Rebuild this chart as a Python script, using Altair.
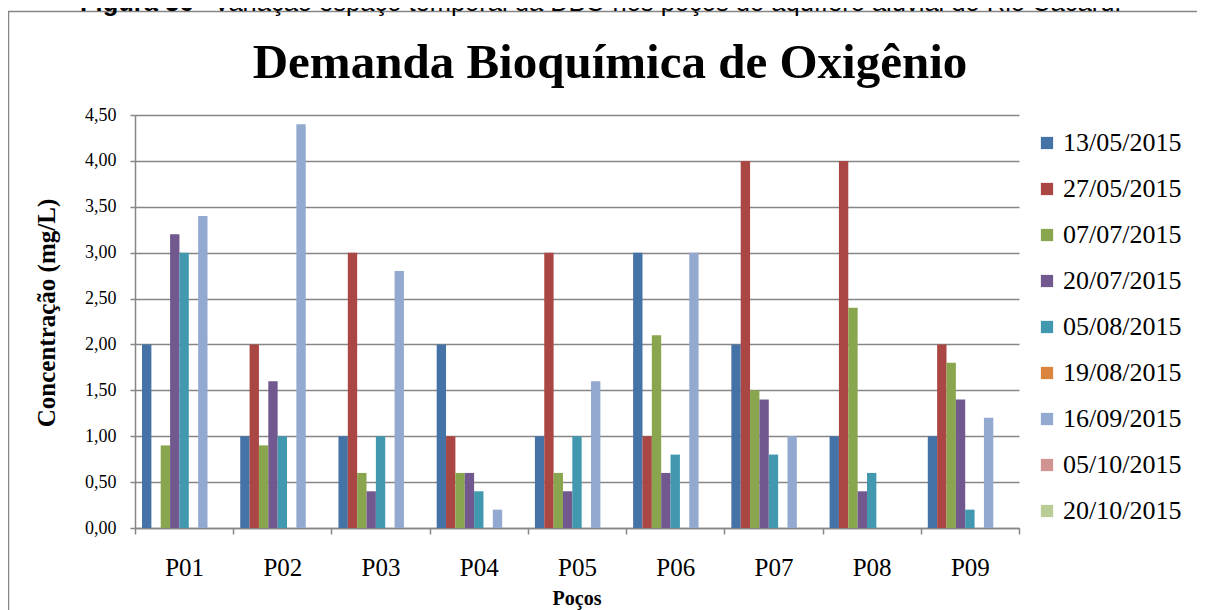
import altair as alt
import pandas as pd

wells = ["P01", "P02", "P03", "P04", "P05", "P06", "P07", "P08", "P09"]
dates = ["13/05/2015", "27/05/2015", "07/07/2015", "20/07/2015", "05/08/2015",
         "19/08/2015", "16/09/2015", "05/10/2015", "20/10/2015"]
colors = ["#4572A7", "#AA4643", "#89A54E", "#71588F", "#4198AF",
          "#DB843D", "#93A9CF", "#D19392", "#B9CD96"]

# values per sampling date, one value per well (None = no data)
d_13_05 = [2.0, 1.0, 1.0, 2.0, 1.0, 3.0, 2.0, 1.0, 1.0]
d_27_05 = [None, 2.0, 3.0, 1.0, 3.0, 1.0, 4.0, 4.0, 2.0]
d_07_07 = [0.9, 0.9, 0.6, 0.6, 0.6, 2.1, 1.5, 2.4, 1.8]
d_20_07 = [3.2, 1.6, 0.4, 0.6, 0.4, 0.6, 1.4, 0.4, 1.4]
d_05_08 = [3.0, 1.0, 1.0, 0.4, 1.0, 0.8, 0.8, 0.6, 0.2]
d_19_08 = [None, None, None, None, None, None, None, None, None]
d_16_09 = [3.4, 4.4, 2.8, 0.2, 1.6, 3.0, 1.0, None, 1.2]
d_05_10 = [None, None, None, None, None, None, None, None, None]
d_20_10 = [None, None, None, None, None, None, None, None, None]

series = [d_13_05, d_27_05, d_07_07, d_20_07, d_05_08, d_19_08, d_16_09, d_05_10, d_20_10]
y_ticks = [0, 0.5, 1.0, 1.5, 2.0, 2.5, 3.0, 3.5, 4.0, 4.5]

rows = []
for date, vals in zip(dates, series):
    for well, v in zip(wells, vals):
        rows.append({"well": well, "date": date, "value": v})
df = pd.DataFrame(rows)

SERIF = "Liberation Serif"
SANS = "Liberation Sans"
GRAY = "#868686"

W, H = 884, 413

bars = alt.Chart(df).mark_bar(strokeWidth=0).encode(
    x=alt.X("well:N", sort=wells,
            scale=alt.Scale(domain=wells, paddingInner=0, paddingOuter=0),
            axis=alt.Axis(title=None, labelAngle=0, tickBand="extent", grid=False,
                          labelFont=SERIF, labelFontSize=25, labelColor="black",
                          labelPadding=21, tickSize=6, tickColor=GRAY, domainColor=GRAY,
                          domainWidth=1.5, tickWidth=1.5)),
    xOffset=alt.XOffset("date:N", sort=dates,
                        scale=alt.Scale(domain=dates, paddingInner=0, paddingOuter=0.75)),
    y=alt.Y("value:Q",
            scale=alt.Scale(domain=[0, 4.5], nice=False, zero=True),
            axis=alt.Axis(title=None, values=y_ticks,
                          labelExpr="replace(format(datum.value, '.2f'), '.', ',')",
                          grid=True, gridColor=GRAY, gridWidth=1.5,
                          labelFont=SERIF, labelFontSize=18, labelColor="black",
                          labelPadding=14, tickSize=5, tickColor=GRAY, domainColor=GRAY,
                          domainWidth=1.5, tickWidth=1.5)),
    color=alt.Color("date:N", sort=dates,
                    scale=alt.Scale(domain=dates, range=colors),
                    legend=alt.Legend(title=None, orient="none", legendX=899, legendY=15,
                                      symbolType="square", symbolSize=150,
                                      symbolStrokeWidth=0, labelFont=SERIF,
                                      labelFontSize=26, labelColor="black",
                                      rowPadding=20, labelOffset=3, padding=0)),
)

frame = alt.Chart(pd.DataFrame({"a": [0]})).mark_rect(
    fillOpacity=0, stroke=GRAY, strokeWidth=1.5
).encode(x=alt.value(-126.5), x2=alt.value(1200), y=alt.value(-103.5), y2=alt.value(800))

cap_bold = alt.Chart(pd.DataFrame({"t": ["Figura 36"]})).mark_text(
    font=SANS, fontSize=25.5, fontWeight="bold", align="left", baseline="alphabetic", color="black"
).encode(x=alt.value(-55), y=alt.value(-104), text="t:N")

cap_rest = alt.Chart(pd.DataFrame({"t": ["– Variação espaço temporal da DBO nos poços do aquífero aluvial do Rio Cacaru."]})).mark_text(
    font=SANS, fontSize=25.5, align="left", baseline="alphabetic", color="black"
).encode(x=alt.value(57), y=alt.value(-104), text="t:N")

title = alt.Chart(pd.DataFrame({"t": ["Demanda Bioquímica de Oxigênio"]})).mark_text(
    font=SERIF, fontSize=49, fontWeight="bold", align="center", baseline="alphabetic", color="black"
).encode(x=alt.value(475), y=alt.value(-37), text="t:N")

ytitle = alt.Chart(pd.DataFrame({"t": ["Concentração (mg/L)"]})).mark_text(
    font=SERIF, fontSize=25, fontWeight="bold", align="center", baseline="middle",
    angle=270, color="black"
).encode(x=alt.value(-88), y=alt.value(198), text="t:N")

xtitle = alt.Chart(pd.DataFrame({"t": ["Poços"]})).mark_text(
    font=SERIF, fontSize=20, fontWeight="bold", align="center", baseline="alphabetic", color="black"
).encode(x=alt.value(W / 2), y=alt.value(490), text="t:N")

chart = alt.layer(frame, bars, cap_bold, cap_rest, title, ytitle, xtitle).properties(
    width=W, height=H,
    autosize=alt.AutoSizeParams(type="none"),
    padding={"left": 127, "top": 107, "right": 178, "bottom": 86},
    background="white",
).configure_view(stroke=None)

chart.save("out.html", embed_options={"renderer": "svg", "actions": False})
